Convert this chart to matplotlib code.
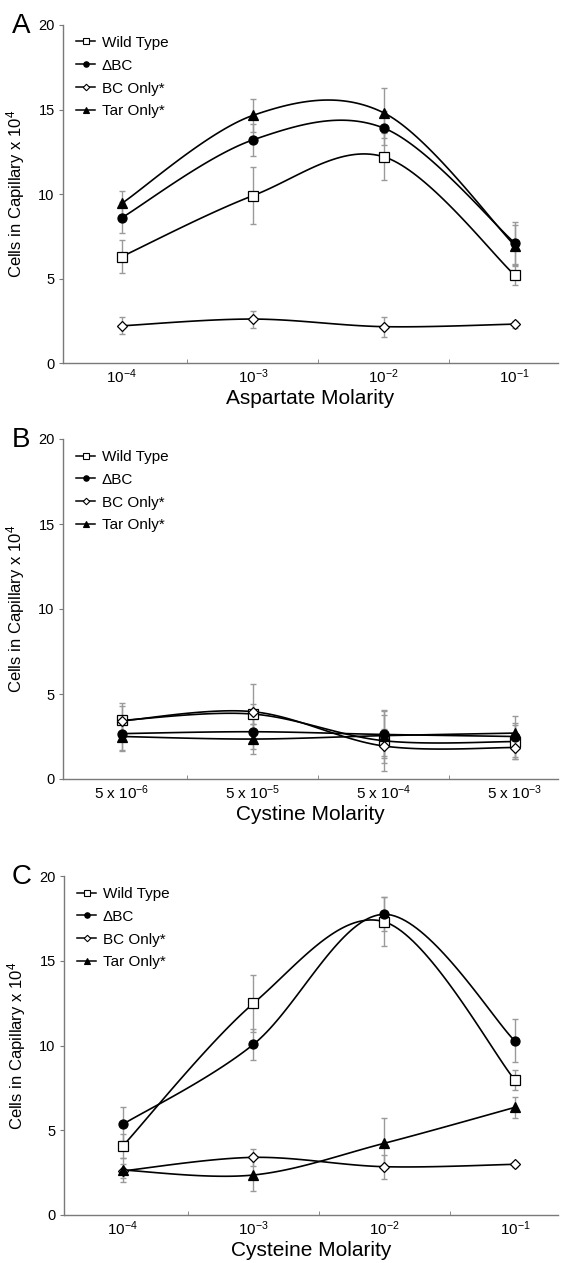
import numpy as np
import matplotlib
matplotlib.use("Agg")
import matplotlib.pyplot as plt
from matplotlib.lines import Line2D

plt.rcParams['font.family'] = ['Liberation Sans', 'DejaVu Sans']
plt.rcParams['mathtext.fontset'] = 'custom'
plt.rcParams['mathtext.rm'] = 'Liberation Sans'
plt.rcParams['mathtext.it'] = 'Liberation Sans:italic'
plt.rcParams['mathtext.bf'] = 'Liberation Sans:bold'

# ---------------- data ----------------
series_names = ['Wild Type', '\u0394BC', 'BC Only*', 'Tar Only*']

A_ticks = ['10$^{-4}$', '10$^{-3}$', '10$^{-2}$', '10$^{-1}$']
A_wt = [6.3, 9.9, 12.2, 5.2]
A_wt_err = [1.0, 1.7, 1.4, 0.6]
A_dbc = [8.6, 13.2, 13.9, 7.1]
A_dbc_err = [0.9, 0.95, 1.0, 1.25]
A_bc = [2.2, 2.6, 2.15, 2.3]
A_bc_err = [0.5, 0.5, 0.6, 0.2]
A_tar = [9.45, 14.65, 14.8, 6.95]
A_tar_err = [0.75, 1.0, 1.5, 1.2]

B_ticks = ['5 x 10$^{-6}$', '5 x 10$^{-5}$', '5 x 10$^{-4}$', '5 x 10$^{-3}$']
B_wt = [3.45, 3.82, 2.25, 2.2]
B_wt_err = [1.0, 0.6, 1.8, 1.0]
B_dbc = [2.67, 2.78, 2.62, 2.5]
B_dbc_err = [1.0, 1.0, 1.4, 1.2]
B_bc = [3.42, 3.96, 1.94, 1.85]
B_bc_err = [0.9, 1.6, 1.0, 0.7]
B_tar = [2.5, 2.35, 2.55, 2.7]
B_tar_err = [0.8, 0.9, 1.2, 0.6]

C_ticks = ['10$^{-4}$', '10$^{-3}$', '10$^{-2}$', '10$^{-1}$']
C_wt = [4.07, 12.49, 17.3, 7.96]
C_wt_err = [0.7, 1.67, 1.45, 0.6]
C_dbc = [5.35, 10.07, 17.74, 10.27]
C_dbc_err = [1.0, 0.93, 1.0, 1.27]
C_bc = [2.6, 3.4, 2.85, 2.99]
C_bc_err = [0.4, 0.5, 0.7, 0.15]
C_tar = [2.65, 2.36, 4.23, 6.35]
C_tar_err = [0.7, 0.93, 1.47, 0.6]

panels = [
    ('A', A_ticks, 'Aspartate Molarity',
     [(A_wt, A_wt_err), (A_dbc, A_dbc_err), (A_bc, A_bc_err), (A_tar, A_tar_err)]),
    ('B', B_ticks, 'Cystine Molarity',
     [(B_wt, B_wt_err), (B_dbc, B_dbc_err), (B_bc, B_bc_err), (B_tar, B_tar_err)]),
    ('C', C_ticks, 'Cysteine Molarity',
     [(C_wt, C_wt_err), (C_dbc, C_dbc_err), (C_bc, C_bc_err), (C_tar, C_tar_err)]),
]

# marker styles: (marker, facecolor, size)
styles = [('s', 'white', 7.0), ('o', 'black', 6.5), ('D', 'white', 5.5), ('^', 'black', 6.5)]


def smooth(x, y, n=40):
    """Excel-like smoothed line (uniform Catmull-Rom as cubic Bezier)."""
    P = np.column_stack([x, y]).astype(float)
    Pe = np.vstack([P[0], P, P[-1]])
    t = np.linspace(0, 1, n)[:, None]
    out = []
    for i in range(len(P) - 1):
        p0, p1, p2, p3 = Pe[i], Pe[i + 1], Pe[i + 2], Pe[i + 3]
        c1 = p1 + (p2 - p0) / 6.0
        c2 = p2 - (p3 - p1) / 6.0
        seg = ((1 - t) ** 3) * p1 + 3 * ((1 - t) ** 2) * t * c1 + 3 * (1 - t) * t ** 2 * c2 + t ** 3 * p2
        out.append(seg if i == 0 else seg[1:])
    S = np.vstack(out)
    return S[:, 0], S[:, 1]


W, H = 563, 1263
fig = plt.figure(figsize=(W / 100, H / 100), dpi=100)

# axes rectangles in pixels: (left, top, right, bottom)
rects = [(63, 25, 558, 363), (63, 439, 558, 779), (64, 876, 558, 1215)]
axis_col = '#7a7a7a'
err_col = '#9a9a9a'

for (letter, ticks, xlabel, series), (l, t, r, b) in zip(panels, rects):
    ax = fig.add_axes([l / W, 1 - b / H, (r - l) / W, (b - t) / H])
    x = np.arange(len(ticks))
    for (vals, errs), (mk, fc, ms) in zip(series, styles):
        ax.errorbar(x, vals, yerr=errs, fmt='none', ecolor=err_col, elinewidth=1.0,
                    capsize=2, capthick=1.0, zorder=1)
    for (vals, errs), (mk, fc, ms) in zip(series, styles):
        sx, sy = smooth(x, vals)
        ax.plot(sx, sy, color='black', lw=1.2, zorder=2)
        ax.plot(x, vals, linestyle='none', marker=mk, markersize=ms,
                markerfacecolor=fc, markeredgecolor='black', markeredgewidth=0.9, zorder=3)

    ax.set_xlim(-0.45, 3.33)
    ax.set_ylim(0, 20)
    ax.set_yticks([0, 5, 10, 15, 20])
    ax.set_xticks(x)
    ax.set_xticklabels(ticks)
    ax.set_xticks([0.5, 1.5, 2.5], minor=True)
    ax.tick_params(axis='x', which='major', length=0, pad=3, labelsize=11)
    ax.tick_params(axis='x', which='minor', length=3, direction='in', color=axis_col)
    ax.tick_params(axis='y', length=3, direction='out', color=axis_col, labelsize=10.5, pad=3)
    for s in ['top', 'right']:
        ax.spines[s].set_visible(False)
    for s in ['left', 'bottom']:
        ax.spines[s].set_color(axis_col)
        ax.spines[s].set_linewidth(1.0)
    ax.set_xlabel(xlabel, fontsize=15, labelpad=2)
    ax.set_ylabel('Cells in Capillary x 10$^{4}$', fontsize=12, labelpad=8)

    handles = [Line2D([0], [0], color='black', lw=1.1, marker=mk, markersize=ms * 0.6,
                      markerfacecolor=fc, markeredgecolor='black', markeredgewidth=0.8)
               for (mk, fc, ms) in styles]
    ax.legend(handles, series_names, loc='upper left', bbox_to_anchor=(0.027, 0.968),
              frameon=False, fontsize=11, handlelength=1.2, handletextpad=0.45,
              labelspacing=0.58, borderaxespad=0, borderpad=0)

    fig.text(12 / W, 1 - (t + 1) / H, letter, fontsize=20, ha='left', va='center')

fig.savefig('out.png', dpi=100)
